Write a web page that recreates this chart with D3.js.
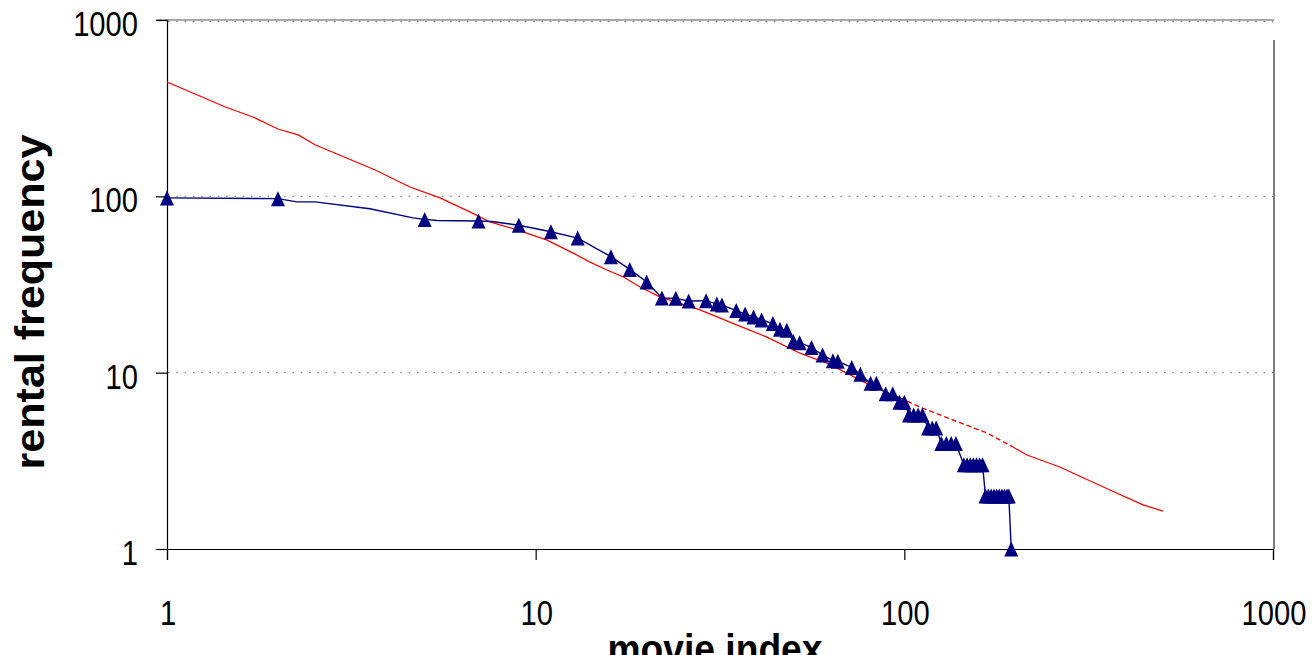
<!DOCTYPE html>
<meta charset="utf-8">
<style>
body{margin:0;background:#fff;}
svg{display:block}
text{font-family:"Liberation Sans", Arial, sans-serif;fill:#000;}
</style>
<svg id="chart" width="1315" height="655"></svg>
<script src="https://d3js.org/d3.v7.min.js"></script>
<script>
// rank / frequency (log-log)
const tickValues = [1, 10, 100, 1000]
const tickLabels = ["1", "10", "100", "1000"]

// observed rentals (navy). ranks listed in unmarkedRanks are bends of the line without a marker
const blueRank = [1, 2, 2.25, 2.52, 3.55, 4.65, 5, 5.4, 7, 7.6, 9, 11, 13, 16, 18, 20, 22, 24, 26, 29,
  31, 32, 35, 37, 39, 41, 44, 46, 48, 50, 52, 56, 60, 64, 66, 72, 76, 81, 84, 89, 93, 97, 100,
  103, 106, 109, 112, 116, 119, 122, 126, 130, 134, 138, 145, 148, 151, 154, 157, 160, 163,
  166, 169, 172, 175, 178, 181, 184, 187, 190, 192, 195]
const blueFreq = [98, 97, 93, 93, 85, 75.5, 74, 73, 72.5, 72, 68.5, 63, 58, 45.5, 38.5, 32.7, 26.5, 26.4, 25.5, 25.6,
  24.5, 24.2, 22.5, 21.5, 20.7, 19.9, 19.0, 17.6, 17.4, 15.0, 14.8, 13.9, 12.6, 11.7, 11.6, 10.7, 9.8, 8.7, 8.7, 7.6, 7.6, 6.8, 6.8,
  5.75, 5.75, 5.75, 5.75, 4.86, 4.86, 4.86, 3.96, 3.96, 3.96, 3.96, 3, 3, 3, 3, 3, 3, 3,
  2, 2, 2, 2, 2, 2, 2, 2, 2, 2, 1]
const unmarkedRanks = [2.25, 2.52, 3.55, 4.65, 5.4, 7.6]

// model curve (red): solid head, stair-stepped middle, solid tail
const redHeadRank = [1, 1.44, 1.71, 2.0, 2.27, 2.52, 3.67, 4.56, 5.5, 6.63, 7.52, 8.9, 10.7, 12.6, 14.0, 15.6,
  17.3, 19.2, 21.7, 27.9, 35.2, 42.4, 52.1, 61.7, 66.9, 80.7, 97.3]
const redHeadFreq = [445, 321, 282, 241, 223, 196, 141, 113, 98, 81.6, 71.6, 64.5, 56.6, 47.8, 42.5, 38.2,
  34.9, 30.6, 26.9, 22.7, 18.6, 15.9, 12.9, 11.3, 10.4, 8.5, 7.2]
const redMidRank = [97.3, 110, 135.5, 167.5, 197]
const redMidFreq = [7.2, 6.39, 5.39, 4.55, 3.79]
const redTailRank = [197, 215, 264, 361, 444, 503]
const redTailFreq = [3.79, 3.41, 2.92, 2.16, 1.78, 1.64]

const svg = d3.select('#chart')
const plotL = 167, plotR = 1273, plotT = 20, plotB = 549

const x = d3.scaleLog().domain([1, 1000]).range([plotL, plotR])
const y = d3.scaleLog().domain([1, 1000]).range([plotB, plotT])

// dotted gridlines
svg.append('g').selectAll('line').data(tickValues.slice(1)).join('line')
  .attr('x1', plotL + 1).attr('x2', plotR)
  .attr('y1', d => y(d) + (d === 1000 ? 1.5 : 0)).attr('y2', d => y(d) + (d === 1000 ? 1.5 : 0))
  .attr('stroke', '#888').attr('stroke-width', 1.3).attr('stroke-dasharray', '1.5,6.8')

// frame: top and right borders
svg.append('line').attr('x1', plotL - 11).attr('x2', plotR + 1).attr('y1', plotT).attr('y2', plotT)
  .attr('stroke', '#555').attr('stroke-width', 1.2)
svg.append('line').attr('x1', plotR + 1).attr('x2', plotR + 1).attr('y1', plotT + 20).attr('y2', plotB)
  .attr('stroke', '#222').attr('stroke-width', 1.2)

// axes
const yAxis = svg.append('g').attr('transform', `translate(${plotL},0)`)
  .call(d3.axisLeft(y).tickValues(tickValues).tickSize(11).tickFormat(''))
const xAxis = svg.append('g').attr('transform', `translate(0,${plotB})`)
  .call(d3.axisBottom(x).tickValues(tickValues).tickSize(11).tickFormat(''))
;[yAxis, xAxis].forEach(a => {
  a.select('.domain').attr('stroke', '#000').attr('stroke-width', 1.2)
  a.selectAll('.tick line').attr('stroke', '#000').attr('stroke-width', 1.2)
})

// tick labels (the picture is squeezed horizontally)
const sx = 0.81
svg.append('g').selectAll('text').data(tickValues).join('text')
  .attr('transform', d => `translate(138,${y(d) + 16}) scale(${sx},1)`)
  .attr('text-anchor', 'end').style('font-size', '36px')
  .text((d, i) => tickLabels[i])
svg.append('g').selectAll('text').data(tickValues).join('text')
  .attr('transform', d => `translate(${x(d) + 1},${625}) scale(${sx},1)`)
  .attr('text-anchor', 'middle').style('font-size', '36px')
  .text((d, i) => tickLabels[i])

// axis titles
svg.append('text')
  .attr('transform', 'translate(44,302) rotate(-90) scale(1.05,1)')
  .attr('text-anchor', 'middle').style('font-size', '41px').style('font-weight', 'bold')
  .text('rental frequency')
svg.append('text')
  .attr('transform', 'translate(715,663) scale(0.93,1)')
  .attr('text-anchor', 'middle').style('font-size', '40px').style('font-weight', 'bold')
  .text('movie index')

// series
const line = d3.line().x(d => x(d[0])).y(d => y(d[1]))
const pairs = (r, f) => r.map((d, i) => [d, f[i]])

svg.append('path').datum(pairs(redHeadRank, redHeadFreq)).attr('d', line)
  .attr('fill', 'none').attr('stroke', '#ff0000').attr('stroke-width', 1.2)
svg.append('path').datum(pairs(redMidRank, redMidFreq)).attr('d', line)
  .attr('fill', 'none').attr('stroke', '#ff0000').attr('stroke-width', 1.4).attr('stroke-dasharray', '5,3')
svg.append('path').datum(pairs(redTailRank, redTailFreq)).attr('d', line)
  .attr('fill', 'none').attr('stroke', '#ff0000').attr('stroke-width', 1.2)

const bluePts = pairs(blueRank, blueFreq)
svg.append('path').datum(bluePts).attr('d', line)
  .attr('fill', 'none').attr('stroke', '#000080').attr('stroke-width', 1.4)

svg.append('g').selectAll('path').data(bluePts.filter(d => !unmarkedRanks.includes(d[0]))).join('path')
  .attr('transform', d => `translate(${x(d[0])},${y(d[1])})`)
  .attr('d', 'M0,-7.5L7,7.5L-7,7.5Z')
  .attr('fill', '#000080')
</script>
